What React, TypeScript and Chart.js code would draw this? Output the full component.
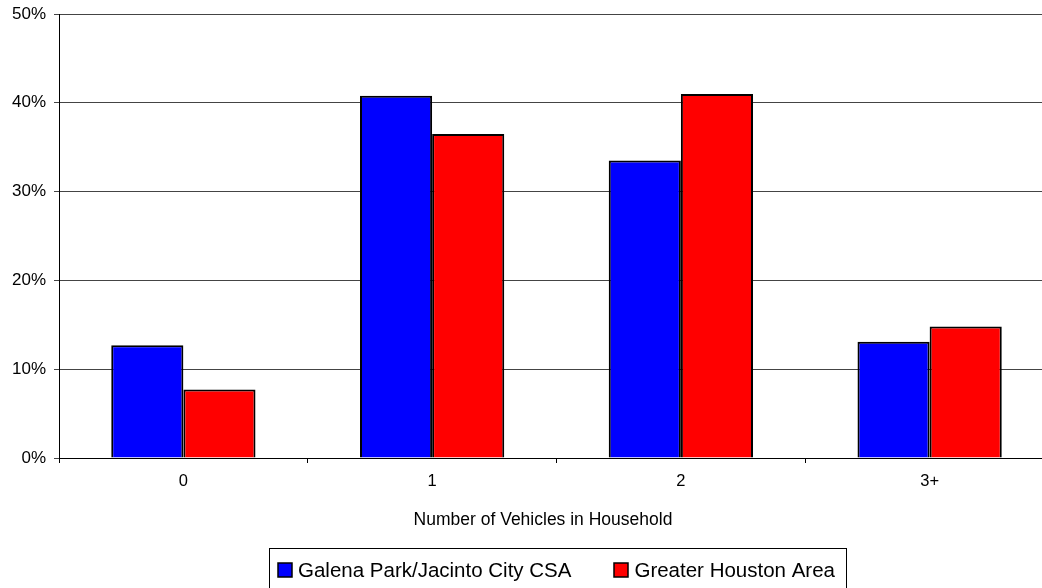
import React, { useEffect, useRef } from "react";
import { Chart, registerables } from "chart.js";

Chart.register(...registerables);

const categories = ["0", "1", "2", "3+"];
const galenaPark = [12.7, 40.8, 33.5, 13.1];
const greaterHouston = [7.7, 36.5, 41.0, 14.8];
const seriesNames = ["Galena Park/Jacinto City CSA", "Greater Houston Area"];
const seriesColors = ["#0000FF", "#FF0000"];
const xTitle = "Number of Vehicles in Household";

const FONT = "'Liberation Sans', Arial, sans-serif";

const boxLegendPlugin = {
  id: "boxLegend",
  afterDraw(chart: any) {
    const ctx = chart.ctx;
    const area = chart.chartArea;
    ctx.save();
    // x-axis title
    ctx.font = `17.5px ${FONT}`;
    ctx.fillStyle = "#000";
    ctx.textAlign = "center";
    ctx.textBaseline = "middle";
    ctx.fillText(xTitle, chart.width / 2, 520.5);

    // legend
    ctx.font = `20.5px ${FONT}`;
    const sq = 14;
    const gapSqText = 6;
    const gapItems = 43;
    const w1 = ctx.measureText(seriesNames[0]).width;
    const w2 = ctx.measureText(seriesNames[1]).width;
    const total = sq + gapSqText + w1 + gapItems + sq + gapSqText + w2;
    const cx = (area.left + area.right) / 2;
    const padL = 9.5;
    const padR = 11;
    let x = cx - total / 2;
    const boxTop = 548;
    const cy = 570;
    ctx.strokeStyle = "#000";
    ctx.lineWidth = 1;
    ctx.strokeRect(Math.round(x - padL) + 0.5, boxTop + 0.5, Math.round(total + padL + padR), 46);
    ctx.textAlign = "left";
    const widths = [w1, w2];
    for (let i = 0; i < 2; i++) {
      ctx.fillStyle = seriesColors[i];
      ctx.fillRect(Math.round(x), Math.round(cy - sq / 2), sq, sq);
      ctx.strokeStyle = "#000";
      ctx.lineWidth = 1.5;
      ctx.strokeRect(Math.round(x), Math.round(cy - sq / 2), sq, sq);
      ctx.fillStyle = "#000";
      ctx.fillText(seriesNames[i], x + sq + gapSqText, cy + 1);
      x += sq + gapSqText + widths[i] + gapItems;
    }
    ctx.restore();
  },
};

export default function App() {
  const ref = useRef<HTMLCanvasElement | null>(null);
  useEffect(() => {
    if (!ref.current) return;
    const chart = new Chart(ref.current, {
      type: "bar",
      data: {
        labels: categories,
        datasets: [
          {
            label: seriesNames[0],
            data: galenaPark,
            backgroundColor: seriesColors[0],
            borderColor: "#000",
            borderWidth: 2,
            barPercentage: 1,
            categoryPercentage: 0.58,
          },
          {
            label: seriesNames[1],
            data: greaterHouston,
            backgroundColor: seriesColors[1],
            borderColor: "#000",
            borderWidth: 2,
            barPercentage: 1,
            categoryPercentage: 0.58,
          },
        ],
      },
      options: {
        animation: false,
        responsive: false,
        maintainAspectRatio: false,
        layout: { padding: { left: 0, right: 32, top: 14, bottom: 112 } },
        plugins: { legend: { display: false }, tooltip: { enabled: false }, title: { display: false } },
        scales: {
          x: {
            grid: {
              offset: true,
              drawOnChartArea: false,
              drawTicks: true,
              tickLength: 5,
              color: "#000",
            },
            border: { display: true, color: "#000", width: 1 },
            ticks: { color: "#000", font: { family: FONT, size: 16.5 }, padding: 9 },
            afterFit: (s: any) => {
              s.height = 30;
              s.paddingLeft = 0;
              s.paddingRight = 0;
            },
          },
          y: {
            min: 0,
            max: 50,
            ticks: {
              stepSize: 10,
              color: "#000",
              font: { family: FONT, size: 17 },
              padding: 8,
              callback: (v: any) => `${v}%`,
            },
            grid: { color: "#444", tickLength: 5, tickColor: "#444" },
            border: { display: true, color: "#000", width: 1 },
            afterFit: (s: any) => {
              s.width = 59;
              s.paddingTop = 0;
              s.paddingBottom = 0;
            },
          },
        },
      },
      plugins: [boxLegendPlugin],
    });
    return () => chart.destroy();
  }, []);
  return (
    <div style={{ position: "fixed", left: 0, top: 0, width: 1042, height: 588, overflow: "hidden", background: "#fff" }}>
      <canvas ref={ref} width={1086} height={600} style={{ display: "block", width: 1086, height: 600 }} />
    </div>
  );
}
